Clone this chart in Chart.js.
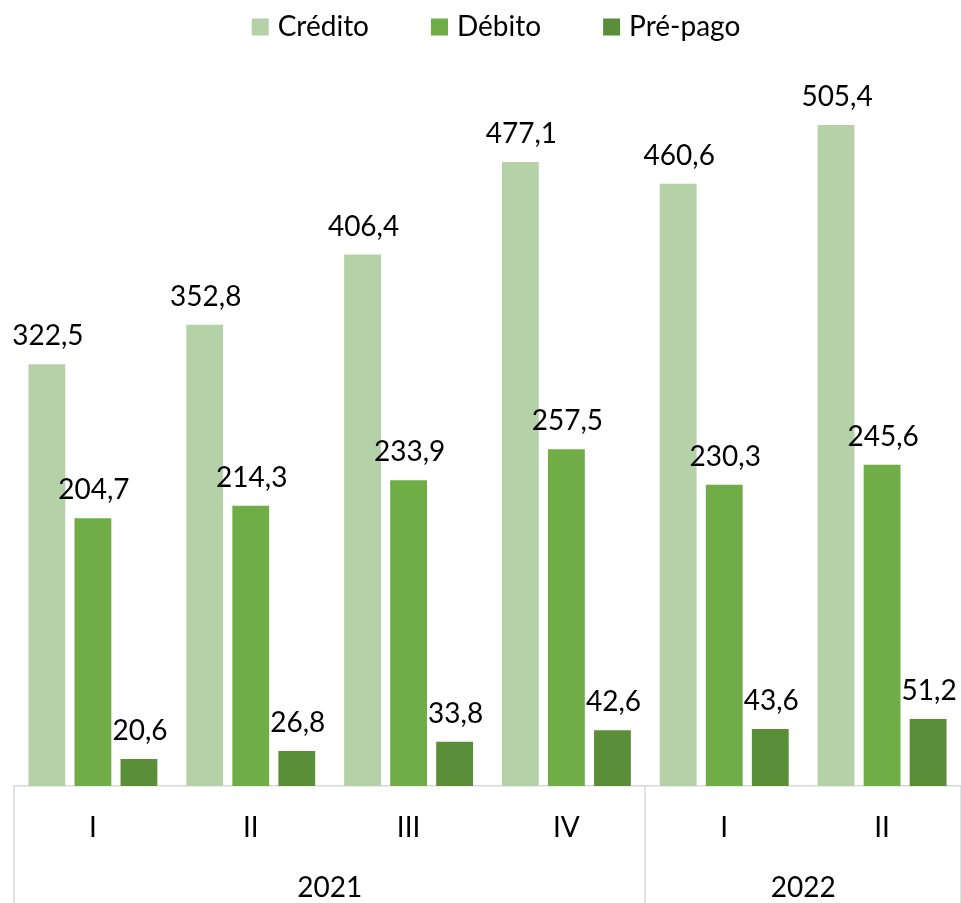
<!DOCTYPE html>
<html>
<head>
<meta charset="utf-8">
<script src="https://cdn.jsdelivr.net/npm/chart.js@4.4.1/dist/chart.umd.min.js"></script>
<style>
  html, body { margin: 0; padding: 0; background: #ffffff; }
  #wrap { width: 961px; height: 903px; position: relative; }
</style>
</head>
<body>
<div id="wrap"><canvas id="c"></canvas></div>
<script>
// ---- data ----
const quarters = ['I', 'II', 'III', 'IV', 'I', 'II'];
const years = ['2021', '2022'];
const yearSpans = [4, 2];
const seriesNames = ['Crédito', 'Débito', 'Pré-pago'];
const credito = [322.5, 352.8, 406.4, 477.1, 460.6, 505.4];
const debito = [204.7, 214.3, 233.9, 257.5, 230.3, 245.6];
const prepago = [20.6, 26.8, 33.8, 42.6, 43.6, 51.2];

// ---- styles ----
const colors = ['#B5D1A7', '#70AD47', '#5A8E39'];
const FONT = 'Lato, "Open Sans", sans-serif';
const FS = 28;
const gridColor = '#D9D9D9';

const fmt = v => v.toFixed(1).replace('.', ',');

const labelPlugin = {
  id: 'valueLabels',
  afterDatasetsDraw(chart) {
    const ctx = chart.ctx;
    ctx.save();
    ctx.font = FS + 'px ' + FONT;
    ctx.fillStyle = '#000';
    ctx.textAlign = 'center';
    ctx.textBaseline = 'alphabetic';
    chart.data.datasets.forEach((ds, i) => {
      const meta = chart.getDatasetMeta(i);
      meta.data.forEach((bar, j) => {
        ctx.fillText(fmt(ds.data[j]), bar.x + 1, bar.y - 19);
      });
    });
    ctx.restore();
  }
};

const groupPlugin = {
  id: 'groupAxis',
  afterDraw(chart) {
    const ctx = chart.ctx;
    const xs = chart.scales.x;
    const area = chart.chartArea;
    const bottom = chart.height;
    const half = (xs.getPixelForValue(1) - xs.getPixelForValue(0)) / 2;
    ctx.save();
    ctx.strokeStyle = gridColor;
    ctx.lineWidth = 1.5;
    ctx.font = FS + 'px ' + FONT;
    ctx.fillStyle = '#000';
    ctx.textAlign = 'center';
    ctx.textBaseline = 'middle';
    let start = 0;
    const edges = [];
    years.forEach((y, k) => {
      const end = start + yearSpans[k] - 1;
      const left = xs.getPixelForValue(start) - half;
      const right = xs.getPixelForValue(end) + half;
      edges.push(left, right);
      const cx = (xs.getPixelForValue(start) + xs.getPixelForValue(end)) / 2;
      ctx.fillText(y, cx, 888);
      start = end + 1;
    });
    [...new Set(edges.map(e => Math.round(e)))].forEach(e => {
      ctx.beginPath();
      ctx.moveTo(e, area.bottom);
      ctx.lineTo(e, bottom);
      ctx.stroke();
    });
    ctx.restore();
  }
};

const legendPlugin = {
  id: 'customLegend',
  afterDraw(chart) {
    const ctx = chart.ctx;
    ctx.save();
    ctx.font = FS + 'px ' + FONT;
    const box = 17, gap = 9, spacing = 62;
    const widths = seriesNames.map(n => ctx.measureText(n).width);
    const total = widths.reduce((a, w) => a + box + gap + w, 0) + spacing * (seriesNames.length - 1);
    let x = 496 - total / 2;
    const cy = 27;
    ctx.textBaseline = 'middle';
    ctx.textAlign = 'left';
    seriesNames.forEach((n, i) => {
      ctx.fillStyle = colors[i];
      ctx.fillRect(x, cy - box / 2, box, box);
      ctx.fillStyle = '#000';
      ctx.fillText(n, x + box + gap, cy);
      x += box + gap + widths[i] + spacing;
    });
    ctx.restore();
  }
};

new Chart(document.getElementById('c'), {
  type: 'bar',
  data: {
    labels: quarters,
    datasets: [
      { label: seriesNames[0], data: credito, backgroundColor: colors[0] },
      { label: seriesNames[1], data: debito, backgroundColor: colors[1] },
      { label: seriesNames[2], data: prepago, backgroundColor: colors[2] }
    ]
  },
  options: {
    responsive: true,
    maintainAspectRatio: false,
    animation: false,
    layout: { padding: { top: 55, left: 14, right: 0, bottom: 0 } },
    datasets: { bar: { categoryPercentage: 0.875, barPercentage: 0.8 } },
    plugins: {
      legend: { display: false },
      tooltip: { enabled: false }
    },
    scales: {
      x: {
        offset: true,
        grid: { display: false, drawTicks: false },
        border: { display: true, color: gridColor, width: 1.5 },
        ticks: { font: { family: FONT, size: FS }, color: '#000', padding: 25, maxRotation: 0, autoSkip: false },
        afterFit: s => { s.height = 117; }
      },
      y: {
        display: false,
        min: 0,
        max: 559
      }
    }
  },
  plugins: [labelPlugin, groupPlugin, legendPlugin]
});
</script>
</body>
</html>
